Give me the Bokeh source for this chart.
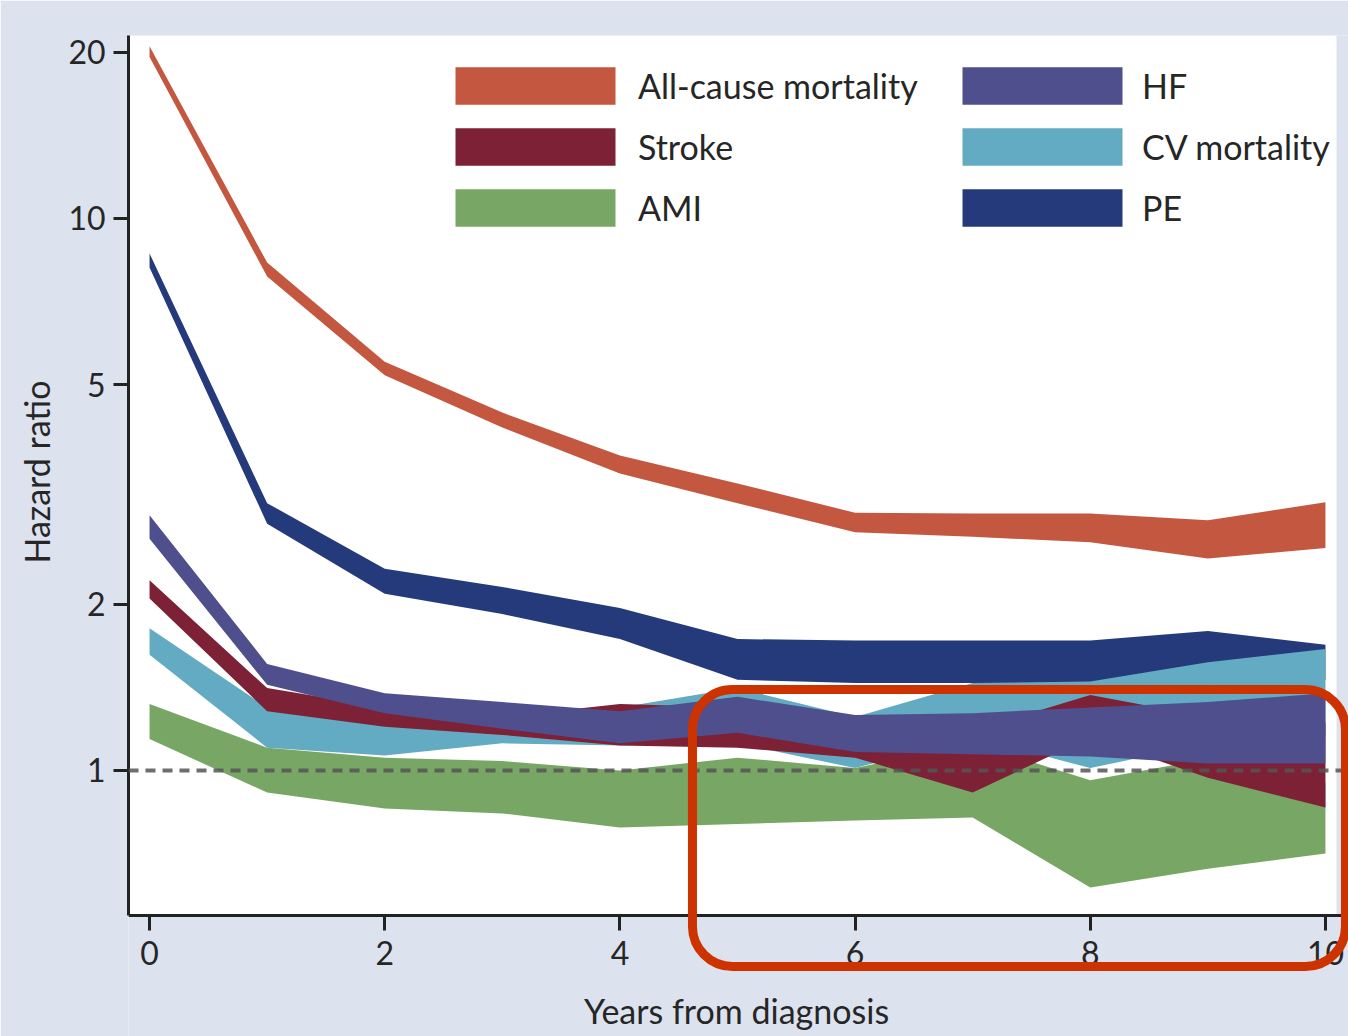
from bokeh.plotting import figure
from bokeh.models import Range1d, FixedTicker, Span, BoxAnnotation, Legend, LegendItem, Title
from bokeh.embed import file_html
from bokeh.resources import INLINE

# ---- data (hazard ratio confidence bands) ----
years = [0, 1, 2, 3, 4, 5, 6, 7, 8, 9, 10]

allcause_hi = [20.5, 8.32, 5.50, 4.45, 3.72, 3.31, 2.93, 2.92, 2.92, 2.84, 3.06]
allcause_lo = [19.6, 7.85, 5.20, 4.18, 3.45, 3.05, 2.70, 2.65, 2.59, 2.42, 2.53]

pe_hi = [8.64, 3.05, 2.32, 2.15, 1.97, 1.73, 1.72, 1.72, 1.72, 1.79, 1.69]
pe_lo = [8.15, 2.80, 2.09, 1.92, 1.73, 1.46, 1.44, 1.44, 1.44, 1.46, 1.46]

ami_hi = [1.32, 1.10, 1.055, 1.04, 1.00, 1.055, 1.01, 1.12, 0.96, 1.05, 0.95]
ami_lo = [1.14, 0.912, 0.853, 0.836, 0.788, 0.80, 0.812, 0.822, 0.614, 0.664, 0.707]

cv_hi = [1.81, 1.30, 1.22, 1.24, 1.30, 1.41, 1.25, 1.44, 1.45, 1.57, 1.66]
cv_lo = [1.62, 1.10, 1.065, 1.12, 1.11, 1.12, 1.01, 1.15, 1.01, 1.12, 1.15]

stroke_hi = [2.21, 1.41, 1.30, 1.25, 1.32, 1.30, 1.22, 1.18, 1.37, 1.25, 1.22]
stroke_lo = [2.05, 1.28, 1.20, 1.16, 1.11, 1.10, 1.055, 0.912, 1.15, 0.97, 0.857]

hf_hi = [2.90, 1.56, 1.38, 1.33, 1.28, 1.36, 1.26, 1.27, 1.30, 1.33, 1.38]
hf_lo = [2.63, 1.43, 1.27, 1.19, 1.12, 1.17, 1.08, 1.07, 1.06, 1.03, 1.03]

x_ticks = [0, 2, 4, 6, 8, 10]
x_tick_labels = ["0", "2", "4", "6", "8", "10"]
y_ticks = [1, 2, 5, 10, 20]
y_tick_labels = ["1", "2", "5", "10", "20"]

FONT = "Lato"
TXT = "#262626"
BG = "#dce3ef"

# plotted data window (white panel) and the full drawing frame
X_MIN, X_MAX = -0.179, 10.094
Y_MIN, Y_MAX = 0.546, 21.45

p = figure(width=1348, height=1036,
           x_range=Range1d(X_MIN, 10.196), y_range=Range1d(0.3297, Y_MAX),
           y_axis_type="log", output_backend="svg", toolbar_location=None,
           min_border_left=128, min_border_right=0, min_border_top=35, min_border_bottom=0)

p.border_fill_color = BG
p.background_fill_color = BG
p.outline_line_color = None
p.grid.visible = False

# white plotting panel
p.add_layout(BoxAnnotation(right=X_MAX, bottom=Y_MIN, fill_color="white", fill_alpha=1,
                           line_color=None, level="underlay"))

series = [
    ("All-cause mortality", allcause_lo, allcause_hi, "#c4573f"),
    ("PE", pe_lo, pe_hi, "#243a7a"),
    ("AMI", ami_lo, ami_hi, "#78a664"),
    ("CV mortality", cv_lo, cv_hi, "#63abc3"),
    ("Stroke", stroke_lo, stroke_hi, "#7c2136"),
    ("HF", hf_lo, hf_hi, "#4f4f8d"),
]
rend = {}
for name, lo, hi, col in series:
    rend[name] = p.varea(x=years, y1=lo, y2=hi, fill_color=col, fill_alpha=1.0)

# reference line at HR = 1
p.add_layout(Span(location=1, dimension="width", line_color="#555555",
                  line_width=4, line_dash="10 7", line_alpha=0.85))

# axes
for ax in (p.xaxis[0], p.yaxis[0]):
    ax.axis_line_color = "#222222"
    ax.axis_line_width = 3
    ax.major_tick_line_color = "#222222"
    ax.major_tick_line_width = 3
    ax.major_tick_out = 15
    ax.major_tick_in = 0
    ax.minor_tick_line_color = None
    ax.major_label_text_font = FONT
    ax.major_label_text_font_size = "32px"
    ax.major_label_text_color = TXT
    ax.axis_label_text_font = FONT
    ax.axis_label_text_font_size = "34px"
    ax.axis_label_text_font_style = "normal"
    ax.axis_label_text_color = TXT

p.xaxis.fixed_location = Y_MIN
p.xaxis.bounds = (X_MIN, 10.16)
p.xaxis.ticker = FixedTicker(ticks=x_ticks)
p.xaxis.major_label_overrides = dict(zip(x_ticks, x_tick_labels))
p.xaxis.major_label_standoff = 10
p.xaxis.axis_label = "Years from diagnosis"
p.xaxis.axis_label_standoff = 22

p.yaxis.bounds = (Y_MIN, Y_MAX)
p.yaxis.ticker = FixedTicker(ticks=y_ticks)
p.yaxis.major_label_overrides = dict(zip(y_ticks, y_tick_labels))
p.yaxis.major_label_standoff = 8

# y-axis title, placed beside the axis and centred on the white panel's height
p.add_layout(Title(text="Hazard ratio", align="left", offset=473, standoff=18,
                   text_font=FONT, text_font_size="34px", text_font_style="normal",
                   text_color=TXT), "left")

# legends (two columns)
def make_legend(names, loc, standoff):
    return Legend(items=[LegendItem(label=n, renderers=[rend[n]]) for n in names],
                  location=loc, orientation="vertical",
                  glyph_width=200, glyph_height=47, spacing=14, padding=0, margin=0,
                  label_standoff=standoff, label_text_font=FONT, label_text_font_size="34px",
                  label_text_color=TXT, border_line_alpha=0, background_fill_alpha=0)

p.add_layout(make_legend(["All-cause mortality", "Stroke", "AMI"], (307, 805), 3))
p.add_layout(make_legend(["HF", "CV mortality", "PE"], (814, 805), 0))

# highlight box
p.add_layout(BoxAnnotation(left=4.617, right=10.17, top=1.402, bottom=0.4415,
                           fill_color=None, fill_alpha=0, line_color="#cc3300",
                           line_alpha=1, line_width=9, border_radius=40, level="overlay"))

open("out.html", "w").write(file_html(p, INLINE))
